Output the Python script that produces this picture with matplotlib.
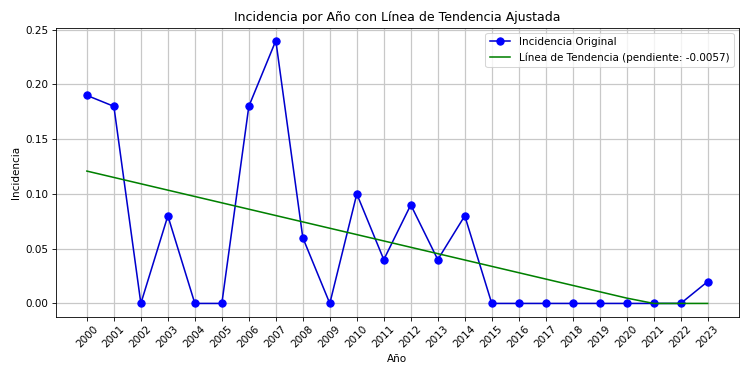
import numpy as np
import matplotlib.pyplot as plt

years = list(range(2000, 2024))
incidencia = [0.19, 0.18, 0.0, 0.08, 0.0, 0.0, 0.18, 0.24, 0.06, 0.0, 0.10, 0.04,
              0.09, 0.04, 0.08, 0.0, 0.0, 0.0, 0.0, 0.0, 0.0, 0.0, 0.0, 0.02]
pendiente_label = "-0.0057"

x = np.array(years)
y = np.array(incidencia)
slope, intercept = np.polyfit(x, y, 1)
trend = np.maximum(slope * x + intercept, 0)

fig, ax = plt.subplots(figsize=(10, 5), dpi=75)
ax.plot(x, y, marker='o', color='mediumblue', markerfacecolor='blue',
        markeredgecolor='blue', markersize=7, label='Incidencia Original')
ax.plot(x, trend, color='green', label=f'Línea de Tendencia (pendiente: {pendiente_label})')

ax.set_title('Incidencia por Año con Línea de Tendencia Ajustada')
ax.set_xlabel('Año')
ax.set_ylabel('Incidencia')
ax.set_xticks(years)
ax.set_xticklabels([str(v) for v in years], rotation=45)
ax.grid(True, color='#c8c8c8', linewidth=1.2)
ax.legend(loc='upper right')
plt.tight_layout()
plt.savefig('out.png')
